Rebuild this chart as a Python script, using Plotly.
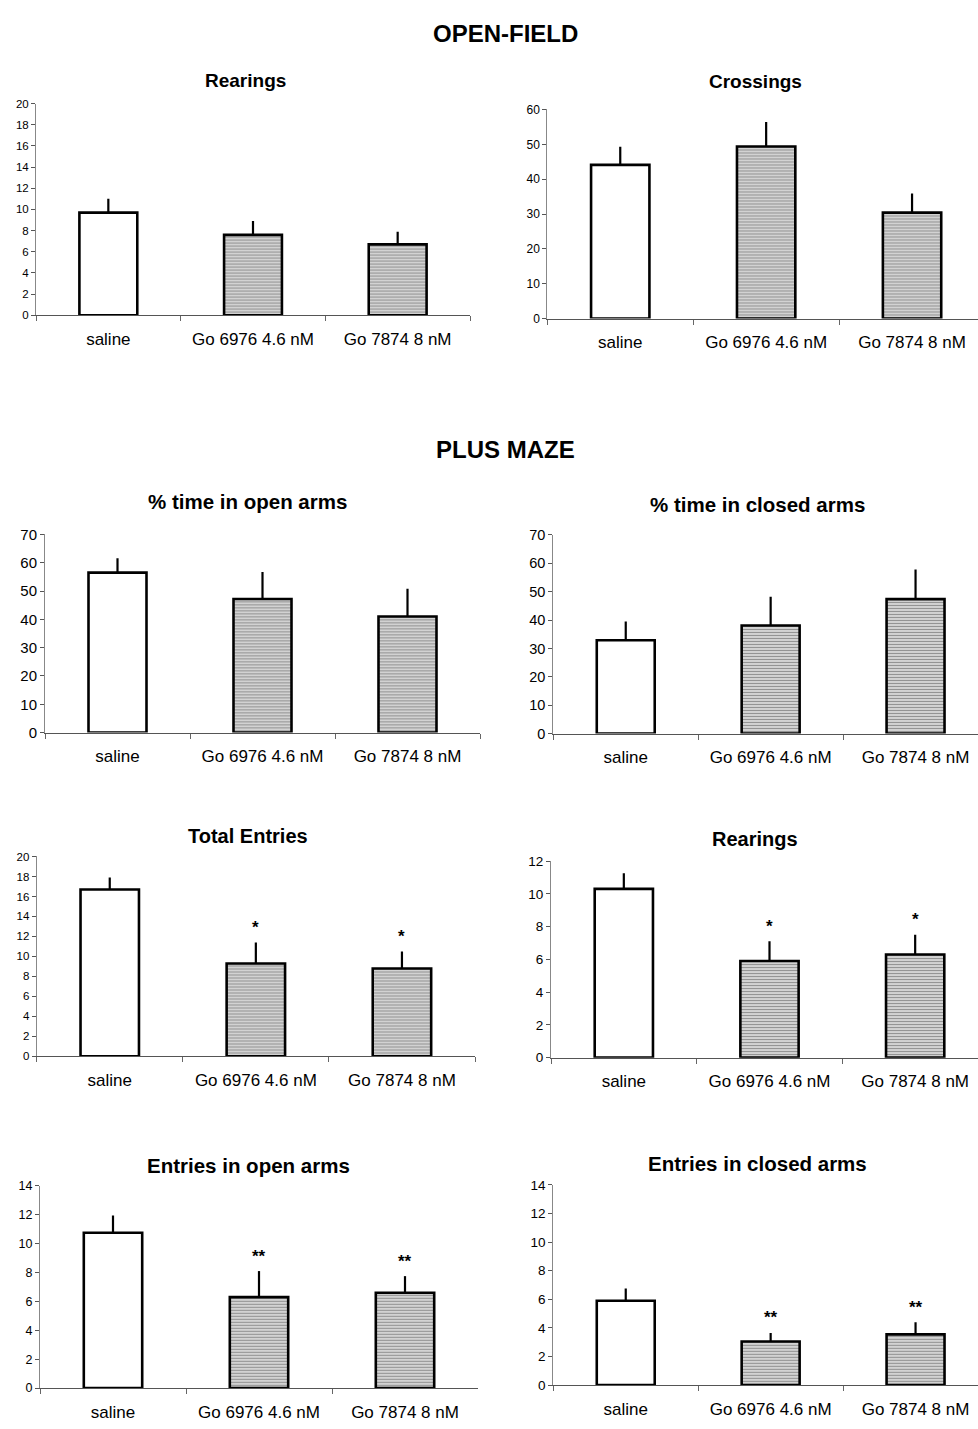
import plotly.graph_objects as go

# Treatment groups shared by every panel
categories = ["saline", "Go 6976 4.6 nM", "Go 7874 8 nM"]

# Open-field: means and SEM
of_rearings = [9.7, 7.6, 6.7]
of_rearings_sem = [1.3, 1.3, 1.2]
of_crossings = [44.1, 49.4, 30.4]
of_crossings_sem = [5.2, 7.0, 5.5]

# Plus maze: means and SEM
pm_open_time = [56.5, 47.2, 41.0]
pm_open_time_sem = [5.1, 9.5, 9.8]
pm_closed_time = [32.9, 38.1, 47.4]
pm_closed_time_sem = [6.6, 10.1, 10.4]
pm_total_entries = [16.7, 9.3, 8.8]
pm_total_entries_sem = [1.2, 2.1, 1.7]
pm_rearings = [10.3, 5.9, 6.3]
pm_rearings_sem = [0.95, 1.2, 1.2]
pm_open_entries = [10.75, 6.3, 6.6]
pm_open_entries_sem = [1.2, 1.8, 1.15]
pm_closed_entries = [5.9, 3.05, 3.55]
pm_closed_entries_sem = [0.85, 0.6, 0.85]

# Significance marks versus saline
no_sig = ["", "", ""]
sig_total_entries = ["", "*", "*"]
sig_rearings = ["", "*", "*"]
sig_open_entries = ["", "**", "**"]
sig_closed_entries = ["", "**", "**"]

W, H = 978, 1429
FONT = "Liberation Sans, Arial, Helvetica, sans-serif"

# (title, means, sem, marks, y max, y step, plot box px (x0, x1, y_top, y_bottom),
#  title centre px, tick font, title font)
panels = [
    ("Rearings", of_rearings, of_rearings_sem, no_sig, 20, 2,
     (36, 470, 95.7, 310), (245, 72), 11.5, 19),
    ("Crossings", of_crossings, of_crossings_sem, no_sig, 60, 10,
     (547.3, 985, 101.7, 313.3), (755, 73), 12, 19),
    ("% time in open arms", pm_open_time, pm_open_time_sem, no_sig, 70, 10,
     (45, 480, 531.7, 732.3), (247, 498), 15, 20.5),
    ("% time in closed arms", pm_closed_time, pm_closed_time_sem, no_sig, 70, 10,
     (553.3, 988, 532.3, 733.3), (757, 501), 14.5, 20.5),
    ("Total Entries", pm_total_entries, pm_total_entries_sem, sig_total_entries, 20, 2,
     (36.7, 475, 857.7, 1060), (248, 837), 11.5, 20),
    ("Rearings", pm_rearings, pm_rearings_sem, sig_rearings, 12, 2,
     (551, 988, 862.3, 1061.3), (755, 840), 13.5, 20),
    ("Entries in open arms", pm_open_entries, pm_open_entries_sem, sig_open_entries, 14, 2,
     (40, 478, 1191, 1395.7), (248, 1170), 12.5, 20.5),
    ("Entries in closed arms", pm_closed_entries, pm_closed_entries_sem, sig_closed_entries, 14, 2,
     (553.3, 988, 1190, 1392.7), (757, 1168), 13.5, 20.5),
]

bar_colors = ["white", "#d2d2d2", "#d2d2d2"]
bar_patterns = ["", "-", "-"]

fig = go.Figure()
annotations = []
layout_axes = {}

for i, (title, mean, sem, marks, ymax, ystep, box, tpos, tick_fs, title_fs) in enumerate(panels, start=1):
    sfx = "" if i == 1 else str(i)
    x0, x1, yt, yb = box
    cat_w = (x1 - x0) / 3.0
    x1c = min(x1, W)
    x_hi = -0.5 + (x1c - x0) / cat_w

    fig.add_trace(go.Bar(
        x=categories, y=mean,
        xaxis="x" + sfx, yaxis="y" + sfx,
        width=0.4,
        marker=dict(
            color=bar_colors,
            line=dict(color="black", width=2.6),
            pattern=dict(shape=bar_patterns, fgcolor="#7a7a7a", size=3, solidity=0.3),
        ),
        error_y=dict(type="data", symmetric=False, array=sem, arrayminus=[0, 0, 0],
                     color="black", thickness=2.2, width=0),
        showlegend=False, hoverinfo="skip",
    ))

    layout_axes["xaxis" + sfx] = dict(
        domain=[x0 / W, x1c / W], anchor="y" + sfx,
        type="category", range=[-0.5, x_hi],
        showline=True, linecolor="#555555", linewidth=1.2,
        ticks="outside", tickson="boundaries", ticklen=5, tickcolor="#666666",
        tickfont=dict(family=FONT, size=17, color="black"),
        ticklabelstandoff=8,
        showgrid=False, zeroline=False, fixedrange=True,
    )
    layout_axes["yaxis" + sfx] = dict(
        domain=[1 - yb / H, 1 - yt / H], anchor="x" + sfx,
        range=[0, ymax], dtick=ystep, tick0=0,
        showline=True, linecolor="#888888", linewidth=1,
        ticks="outside", ticklen=4, tickcolor="#555555",
        tickfont=dict(family=FONT, size=tick_fs, color="black"),
        showgrid=False, zeroline=False, fixedrange=True,
    )

    annotations.append(dict(
        text="<b>%s</b>" % title, xref="paper", yref="paper",
        x=tpos[0] / W, y=1 - tpos[1] / H, xanchor="center", yanchor="middle",
        showarrow=False, font=dict(family=FONT, size=title_fs, color="black"),
    ))

    for cat, m, s, mark in zip(categories, mean, sem, marks):
        if mark:
            annotations.append(dict(
                text="<b>%s</b>" % mark, xref="x" + sfx, yref="y" + sfx, x=cat, y=m + s,
                xanchor="center", yanchor="middle", yshift=15, showarrow=False,
                font=dict(family=FONT, size=17, color="black"),
            ))

# Section headings
for text, py in (("OPEN-FIELD", 25), ("PLUS MAZE", 446)):
    annotations.append(dict(
        text="<b>%s</b>" % text, xref="paper", yref="paper",
        x=505 / W, y=1 - py / H, xanchor="center", yanchor="middle",
        showarrow=False, font=dict(family=FONT, size=24, color="black"),
    ))

fig.update_layout(
    width=W, height=H,
    margin=dict(l=0, r=0, t=0, b=0),
    paper_bgcolor="white", plot_bgcolor="white",
    annotations=annotations,
    bargap=0.6,
    **layout_axes,
)

fig.write_html("out.html")
